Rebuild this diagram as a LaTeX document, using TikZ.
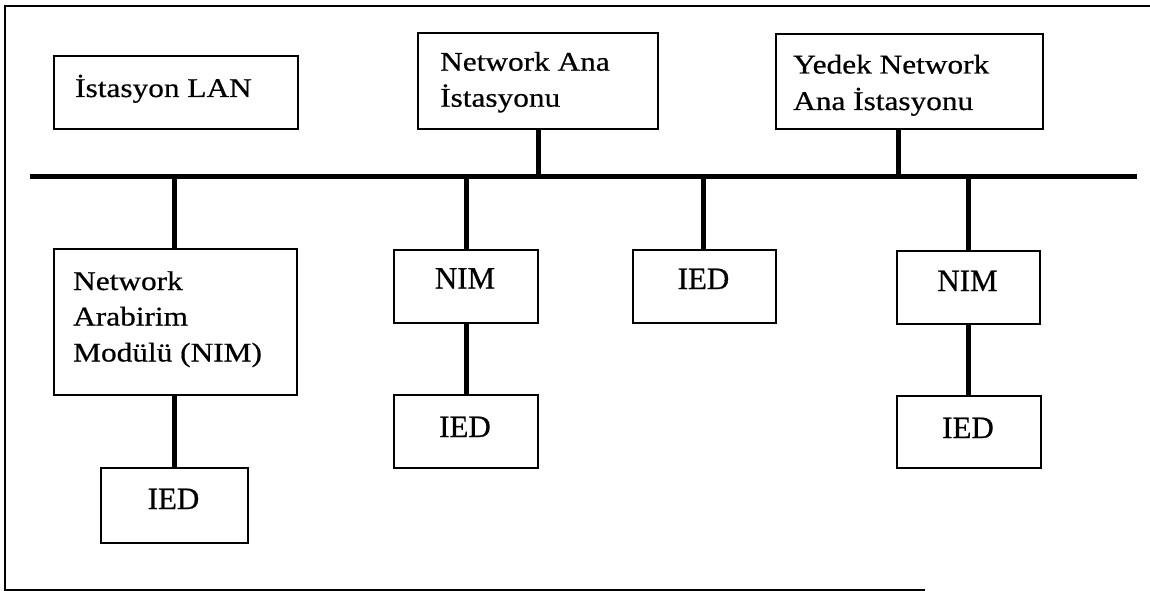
\documentclass[tikz,border=0pt]{standalone}
\usepackage{fontspec}
\setmainfont{Liberation Serif}[FakeBold=0.6]
\newfontfamily\widefont{Liberation Serif}[FakeStretch=1.16, FakeBold=0.6]
\begin{document}
\begin{tikzpicture}[x=1pt,y=-1pt,
  box/.style={draw, line width=2pt, rectangle, inner sep=0pt, anchor=north west},
  link/.style={line width=5pt},
  txt/.style={inner sep=0pt, anchor=base west, font=\widefont\fontsize{27}{36}\selectfont},
  ctxt/.style={inner sep=0pt, anchor=base, font=\fontsize{31}{36}\selectfont}]
\useasboundingbox (0,0) rectangle (1150,591);

% page frame
\draw[line width=2pt] (925,589.5) -- (4.5,589.5) -- (4.5,6.5) -- (1150,6.5);

% upper row
\node[box, minimum width=244pt, minimum height=73pt] (lan) at (53,55) {};
\node[txt] (lanT) at (75,97) {İstasyon LAN};

\node[box, minimum width=240pt, minimum height=96pt] (ana) at (417,32) {};
\node[txt] (anaT1) at (440,70.7) {Network Ana};
\node[txt] (anaT2) at (440,106.7) {İstasyonu};

\node[box, minimum width=267pt, minimum height=95pt] (yedek) at (775,33) {};
\node[txt] (yedekT1) at (793,73.5) {Yedek Network};
\node[txt] (yedekT2) at (793,110) {Ana İstasyonu};

% network bus
\coordinate (busL) at (30,176);
\coordinate (busR) at (1137,176);
\draw[link] (busL) -- (busR);

% lower row
\node[box, minimum width=243pt, minimum height=146pt] (nimA) at (53,248) {};
\node[txt] (nimAT1) at (73,290) {Network};
\node[txt] (nimAT2) at (73,325.5) {Arabirim};
\node[txt] (nimAT3) at (73,361.5) {Modülü (NIM)};

\node[box, minimum width=147pt, minimum height=75pt] (iedA) at (100,467) {};
\node[ctxt] (iedAT) at (173.5,509) {IED};

\node[box, minimum width=144pt, minimum height=73pt] (nimB) at (393,249) {};
\node[ctxt] (nimBT) at (465,288.5) {NIM};

\node[box, minimum width=144pt, minimum height=73pt] (iedB) at (393,394) {};
\node[ctxt] (iedBT) at (465,437) {IED};

\node[box, minimum width=143pt, minimum height=73pt] (iedC) at (632,249) {};
\node[ctxt] (iedCT) at (703.5,289) {IED};

\node[box, minimum width=143pt, minimum height=73pt] (nimD) at (896,250) {};
\node[ctxt] (nimDT) at (967.5,291) {NIM};

\node[box, minimum width=144pt, minimum height=72pt] (iedD) at (896,395) {};
\node[ctxt] (iedDT) at (968,438) {IED};

% connections to the bus
\draw[link] (ana.south) -- (ana.south |- busL);
\draw[link] ([xshift=-11.5pt]yedek.south) -- ([xshift=-11.5pt]yedek.south |- busL);
\draw[link] ([xshift=-1pt]nimA.north) -- ([xshift=-1pt]nimA.north |- busL);
\draw[link] (nimB.north) -- (nimB.north |- busL);
\draw[link] ([xshift=-1pt]iedC.north) -- ([xshift=-1pt]iedC.north |- busL);
\draw[link] (nimD.north) -- (nimD.north |- busL);

% module to device links
\draw[link] (iedA.north) -- (iedA.north |- nimA.south);
\draw[link] (nimB.south) -- (iedB.north);
\draw[link] (nimD.south) -- (nimD.south |- iedD.north);
\end{tikzpicture}
\end{document}
